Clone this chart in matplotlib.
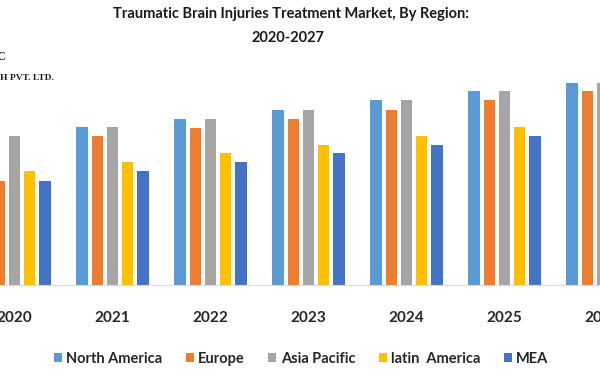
import numpy as np
import matplotlib
matplotlib.use("Agg")
import matplotlib.pyplot as plt
from matplotlib.patches import Patch

# --- dados (unidades arbitrárias) ---
anos = ["2020", "2021", "2022", "2023", "2024", "2025", "2026", "2027"]
north_america = [14.9, 15.8, 16.6, 17.5, 18.5, 19.4, 20.2, 21.1]
europe = [10.4, 14.9, 15.7, 16.6, 17.5, 18.5, 19.4, 20.2]
asia_pacific = [14.9, 15.8, 16.6, 17.5, 18.5, 19.4, 20.2, 21.1]
latin_america = [11.4, 12.3, 13.2, 14.0, 14.9, 15.8, 16.6, 17.5]
mea = [10.4, 11.4, 12.3, 13.2, 14.0, 14.9, 15.8, 16.6]

series = [
    ("North America", north_america, "#5B9BD5"),
    ("Europe", europe, "#ED7D31"),
    ("Asia Pacific", asia_pacific, "#A5A5A5"),
    ("latin  America", latin_america, "#FFC000"),
    ("MEA", mea, "#4472C4"),
]

plt.rcParams['font.family'] = ['Lato', 'DejaVu Sans']

fig = plt.figure(figsize=(6, 3.8), dpi=100)
# eixo um pouco mais largo que a figura: o original está recortado à direita
ax = fig.add_axes([0, 0.25, 1.02, 0.618])

x = np.arange(len(anos))
passo = 0.155
largura = 0.117
for i, (nome, vals, cor) in enumerate(series):
    ax.bar(x + (i - 2) * passo, vals, width=largura, color=cor, label=nome)

ax.set_xticks(x)
ax.set_xticklabels(anos, fontsize=11, fontweight='bold', color='#262626')
# limites depois dos ticks (o gráfico original está cortado nas bordas)
ax.set_xlim(-0.148, 6.097)
ax.set_ylim(0, 23.5)
ax.tick_params(axis='x', length=0, pad=19)
ax.set_yticks([])
for s in ['top', 'right', 'left']:
    ax.spines[s].set_visible(False)
ax.spines['bottom'].set_color('#D9D9D9')
ax.spines['bottom'].set_linewidth(0.8)

# titulo
fig.text(0.485, 1 - 14 / 380, "Traumatic Brain Injuries Treatment Market, By Region:",
         ha='center', va='center', fontsize=10.5, fontweight='bold', color='#1a1a1a')
fig.text(0.48, 1 - 38 / 380, "2020-2027",
         ha='center', va='center', fontsize=10.5, fontweight='bold', color='#1a1a1a')

# logo cortado
fig.text(0, 1 - 78 / 380, "H PVT. LTD.", ha='left', va='center', fontsize=6.8,
         fontweight='bold', family=['Liberation Serif'], color='#222222')
fig.text(-4 / 600, 1 - 57 / 380, "C", ha='left', va='center', fontsize=9,
         fontweight='bold', family=['Liberation Serif'], color='#333333')

# legenda
handles = [Patch(facecolor=c, edgecolor='none', label=n) for n, _, c in series]
fig.legend(handles=handles, loc='center', bbox_to_anchor=(0.502, 1 - 359 / 380),
           ncol=5, frameon=False, handlelength=0.55, handleheight=0.55,
           handletextpad=0.3, columnspacing=1.6,
           prop={'size': 10.5, 'weight': 'bold'})
for t in fig.legends[0].get_texts():
    t.set_color('#262626')

fig.savefig("out.png", dpi=100)
